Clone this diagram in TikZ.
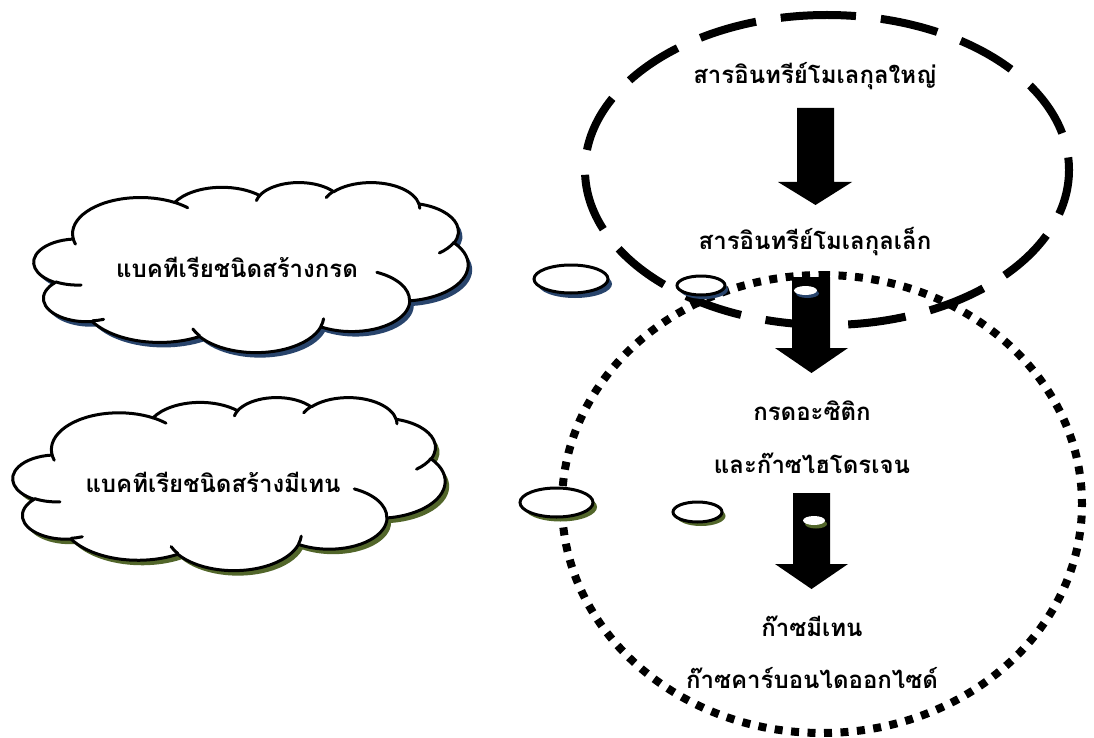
\documentclass[tikz,border=0pt]{standalone}
\usepackage{fontspec}
\newfontfamily\thaifont[Script=Thai]{Loma}
\definecolor{shblue}{RGB}{40,68,108}
\definecolor{shgreen}{RGB}{82,102,42}
\tikzset{
  declare function={vp(\ang,\rx,\ry)=\ang+(atan2(\rx*sin(\ang),\ry*cos(\ang))-\ang)-360*round((atan2(\rx*sin(\ang),\ry*cos(\ang))-\ang)/360);},
  lbl/.style={font=\thaifont\bfseries\fontsize{24}{28}\selectfont, inner sep=0pt, anchor=center},
  cloudline/.style={draw=black, line width=3pt, fill=white, line join=round},
  innerline/.style={draw=black, line width=3pt, line cap=round},
  bubble/.style={draw=black, line width=3pt, fill=white},
  blockarrow/.style={fill=black},
  dashring/.style={draw=black, line width=8pt, dash pattern=on 58pt off 25pt, dash phase=29pt},
  dotring/.style={draw=black, line width=8pt, dash pattern=on 8pt off 8.5pt},
}
\newcommand\carc[4]{arc[start angle={vp(#3,#1,#2)},end angle={vp(#3+#4,#1,#2)},x radius=#1,y radius=#2]}
\newcommand\cloudouter{(3.900,14.370)
 \carc{6.753}{9.190}{-190.4875}{123.7805}
 \carc{5.333}{7.267}{-144.1024}{89.9452}
 \carc{4.365}{5.945}{-145.8079}{99.7230}
 \carc{4.857}{6.595}{-130.9861}{117.2417}
 \carc{5.333}{7.273}{-78.7089}{109.0269}
 \carc{6.775}{9.220}{-46.2673}{130.2690}
 \carc{5.785}{7.867}{0.6250}{114.0333}
 \carc{6.752}{9.215}{22.4516}{115.1726}
 \carc{7.720}{10.543}{66.2426}{75.7110}
 \carc{4.360}{5.918}{-274.9421}{146.7356}
 \carc{4.345}{5.945}{-246.8285}{152.5189} -- cycle}
\newcommand\cloudinner{
 (4.693,26.177) \carc{4.345}{5.945}{86.7420}{26.4295}
 (6.928,34.899) \carc{4.360}{5.918}{73.6105}{11.4475}
 (16.478,39.090) \carc{6.752}{9.215}{137.6242}{14.0811}
 (28.827,34.751) \carc{6.752}{9.215}{6.4533}{15.9984}
 (34.129,22.954) \carc{5.785}{7.867}{-70.2924}{70.9174}
 (41.798,15.354) \carc{5.333}{7.273}{30.3180}{27.7515}
 (38.324,5.426) \carc{4.857}{6.595}{-13.7443}{14.8589}
 (29.078,3.952) \carc{4.857}{6.595}{-149.1815}{18.1954}
 (22.141,4.720) \carc{4.365}{5.945}{-163.4943}{17.6864}
 (14.000,5.192) \carc{6.753}{9.190}{-66.7070}{12.3194}
 (4.127,15.789) \carc{6.753}{9.190}{157.6544}{11.8582}}
\begin{document}
\begin{tikzpicture}[x=1pt,y=-1pt]
\path[use as bounding box, fill=white] (0,0) rectangle (1094,738);

% rings
\draw[dashring] (827,15) arc[start angle=-90, end angle=270, x radius=242, y radius=155];
\draw[dotring] (822,275) arc[start angle=-90, end angle=270, x radius=260, y radius=229];

% block arrows
\fill[blockarrow] (797,108) -- (834,108) -- (834,182) -- (852,182) -- (815.5,205) -- (778,182) -- (797,182) -- cycle;
\fill[blockarrow] (792,277) -- (830,277) -- (830,348) -- (848,348) -- (811.5,373) -- (775,348) -- (792,348) -- cycle;
\fill[blockarrow] (793,493) -- (830,493) -- (830,564) -- (848,564) -- (811.5,589) -- (775,564) -- (793,564) -- cycle;

% cloud 1 (acid bacteria)
\begin{scope}[shift={(34,182)}, x=10.0463pt, y=-3.9352pt]
  \fill[shblue, xshift=4pt, yshift=-5pt] \cloudouter;
  \path[cloudline] \cloudouter;
  \draw[innerline] \cloudinner;
\end{scope}
\fill[shblue] (575,284) ellipse [x radius=37, y radius=14];
\draw[bubble] (571,279) ellipse [x radius=37, y radius=14];
\fill[shblue] (704,289.5) ellipse [x radius=24, y radius=9.5];
\draw[bubble] (701,285.5) ellipse [x radius=24, y radius=9.5];
\fill[shblue] (807.5,293.5) ellipse [x radius=11.5, y radius=4.5];
\path[fill=white] (805.5,290.5) ellipse [x radius=11.5, y radius=4.5];

% cloud 2 (methane bacteria)
\begin{scope}[shift={(13,397)}, x=10.0000pt, y=-4.0046pt]
  \fill[shgreen, xshift=4pt, yshift=-5pt] \cloudouter;
  \path[cloudline] \cloudouter;
  \draw[innerline] \cloudinner;
\end{scope}
\fill[shgreen] (560.5,507) ellipse [x radius=36.5, y radius=14.5];
\draw[bubble] (556.5,502.5) ellipse [x radius=36.5, y radius=14.5];
\fill[shgreen] (701,516) ellipse [x radius=24.5, y radius=10];
\draw[bubble] (697.5,512) ellipse [x radius=24.5, y radius=10];
\fill[shgreen] (816,524) ellipse [x radius=11, y radius=4.5];
\path[fill=white] (814,520.5) ellipse [x radius=11, y radius=4.5];

% labels
\node[lbl] (c1) at (237,267) {แบคทีเรียชนิดสร้างกรด};
\node[lbl] (c2) at (213,482) {แบคทีเรียชนิดสร้างมีเทน};
\node[lbl] (t1) at (815,76) {สารอินทรีย์โมเลกุลใหญ่};
\node[lbl] (t2) at (815,242) {สารอินทรีย์โมเลกุลเล็ก};
\node[lbl] (t3) at (812,411) {กรดอะซิติก};
\node[lbl] (t4) at (812,463) {และก๊าซไฮโดรเจน};
\node[lbl] (t5) at (812,626) {ก๊าซมีเทน};
\node[lbl] (t6) at (812,678) {ก๊าซคาร์บอนไดออกไซด์};
\end{tikzpicture}
\end{document}
